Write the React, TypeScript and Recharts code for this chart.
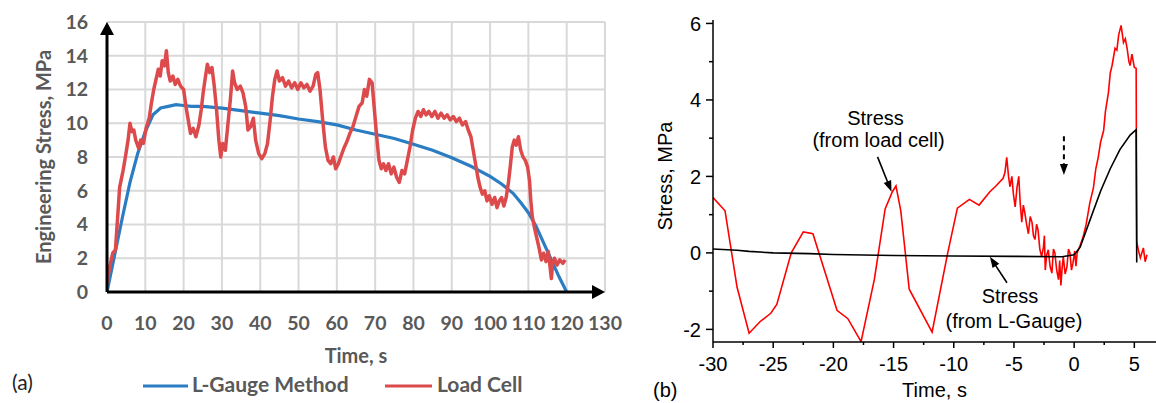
import React from 'react';
import { LineChart, Line, XAxis, YAxis, CartesianGrid, ReferenceLine, ReferenceDot } from 'recharts';

// ---------- Panel (a) ----------
const seriesNamesA = ['L-Gauge Method', 'Load Cell'];
const seriesColorsA = ['#2a7dc3', '#dc4a4c'];
const xTicksA = [0, 10, 20, 30, 40, 50, 60, 70, 80, 90, 100, 110, 120, 130];
const yTicksA = [0, 2, 4, 6, 8, 10, 12, 14, 16];

const lGaugeA: [number, number][] = [
  [0, 0], [2, 2.2], [4, 4.4], [6, 6.5], [8, 8.2], [10, 9.5], [12, 10.5], [14, 10.9], [16, 11.0],
  [18, 11.1], [20, 11.05], [22, 11.0], [25, 11.0], [30, 10.9], [35, 10.75], [40, 10.6], [45, 10.45],
  [50, 10.25], [55, 10.1], [60, 9.9], [65, 9.6], [70, 9.35], [75, 9.1], [80, 8.75], [85, 8.4],
  [90, 7.95], [95, 7.45], [100, 6.85], [103, 6.4], [106, 5.85], [108, 5.3], [110, 4.7], [112, 3.9],
  [114, 2.9], [116, 1.9], [118, 0.9], [120, 0],
];

const loadCellA: [number, number][] = [
  [0, 0.5], [0.7, 1.5], [1.5, 2.3], [2.2, 2.5], [2.8, 4.5], [3.3, 6.2], [4.2, 7.2], [4.8, 8.0], [5.5, 9.0],
  [6.0, 10.0], [6.5, 9.5], [7.0, 9.6], [7.5, 9.0], [8.3, 8.5], [8.8, 9.0], [9.5, 8.8], [10.2, 9.7],
  [11.0, 10.3], [11.6, 11.2], [12.2, 12.0], [12.8, 12.6], [13.4, 13.2], [13.9, 12.8], [14.4, 13.7],
  [15.0, 13.4], [15.5, 14.3], [16.0, 13.0], [16.5, 12.5], [17.2, 12.8], [17.8, 12.3], [18.5, 12.6],
  [19.2, 12.2], [20.0, 12.0], [20.6, 11.0], [21.2, 10.2], [21.8, 9.4], [22.5, 9.7], [23.2, 9.2],
  [24.0, 9.9], [24.6, 10.8], [25.1, 11.8], [25.6, 12.6], [26.2, 13.5], [26.8, 13.0], [27.4, 13.3],
  [28.0, 12.2], [28.6, 10.8], [29.2, 9.0], [29.7, 8.0], [30.2, 8.8], [30.9, 8.4], [31.5, 9.8],
  [32.2, 11.4], [32.8, 13.1], [33.3, 12.4], [34.0, 12.0], [34.8, 12.2], [35.5, 11.8], [36.2, 11.0],
  [36.8, 9.6], [37.5, 9.8], [38.2, 10.3], [38.8, 9.0], [39.6, 8.2], [40.4, 7.9], [41.2, 8.2],
  [41.9, 8.8], [42.6, 10.2], [43.2, 11.6], [43.8, 12.6], [44.4, 13.1], [45.0, 12.5], [45.8, 12.7],
  [46.6, 12.2], [47.4, 12.5], [48.2, 12.1], [49.0, 12.4], [49.8, 12.0], [50.6, 12.4], [51.4, 12.1],
  [52.2, 12.3], [53.0, 11.9], [53.8, 12.2], [54.5, 12.9], [55.0, 13.0], [55.6, 12.0], [56.3, 10.2],
  [57.0, 8.6], [57.7, 7.8], [58.4, 7.6], [59.1, 8.0], [59.7, 7.3], [60.4, 7.6], [61.0, 8.0],
  [61.8, 8.5], [62.6, 8.9], [63.4, 9.4], [64.2, 9.8], [65.0, 10.4], [65.8, 11.0], [66.6, 11.2],
  [67.2, 12.0], [67.8, 11.6], [68.5, 12.6], [69.2, 12.4], [69.8, 10.8], [70.4, 9.2], [71.0, 7.8],
  [71.6, 7.3], [72.2, 7.6], [72.8, 7.2], [73.5, 7.6], [74.2, 7.0], [74.9, 7.4], [75.6, 6.8],
  [76.3, 6.5], [77.0, 7.2], [77.7, 7.0], [78.4, 7.8], [79.1, 8.6], [79.8, 9.6], [80.5, 10.3],
  [81.2, 10.7], [81.9, 10.4], [82.6, 10.8], [83.3, 10.5], [84.0, 10.7], [84.8, 10.4], [85.6, 10.7],
  [86.4, 10.3], [87.2, 10.6], [88.0, 10.3], [88.8, 10.5], [89.6, 10.2], [90.4, 10.4], [91.2, 10.1],
  [92.0, 10.3], [92.8, 9.9], [93.6, 10.1], [94.3, 9.6], [95.0, 9.2], [95.6, 8.4], [96.2, 7.6],
  [96.8, 6.8], [97.4, 6.2], [98.0, 5.8], [98.6, 6.0], [99.2, 5.4], [99.8, 5.7], [100.5, 5.2],
  [101.2, 5.6], [101.8, 5.0], [102.4, 5.4], [103.0, 5.6], [103.6, 5.1], [104.2, 5.6], [104.8, 6.5],
  [105.3, 7.5], [105.8, 8.6], [106.3, 9.0], [106.8, 8.7], [107.4, 9.2], [108.0, 8.4], [108.6, 8.0],
  [109.2, 7.8], [109.8, 7.4], [110.3, 6.6], [110.6, 5.5], [111.0, 4.5], [111.6, 3.8], [112.2, 3.2],
  [112.8, 2.6], [113.4, 1.9], [114.0, 2.3], [114.6, 1.8], [115.2, 2.4], [115.7, 1.4], [116.0, 0.8],
  [116.3, 1.6], [116.8, 2.0], [117.5, 1.6], [118.2, 1.9], [119.0, 1.7], [119.6, 1.9],
];

// ---------- Panel (b) ----------
const xTicksB = [-30, -27.5, -25, -22.5, -20, -17.5, -15, -12.5, -10, -7.5, -5, -2.5, 0, 2.5, 5];
const yTicksB = [-2, -1, 0, 1, 2, 3, 4, 5, 6];

const loadCellB: [number, number][] = [
  [-30, 1.45], [-29, 1.1], [-28, -0.9], [-27, -2.1], [-26.1, -1.8], [-25.2, -1.58], [-24.7, -1.35],
  [-23.5, 0.0], [-22.5, 0.55], [-21.7, 0.5], [-20.6, -0.6], [-19.7, -1.5], [-18.8, -1.72],
  [-17.7, -2.32], [-16.6, -0.7], [-15.7, 1.15], [-15.1, 1.6], [-14.8, 1.75], [-14.4, 1.1],
  [-13.7, -0.95], [-11.8, -2.07], [-10.5, 0.0], [-9.7, 1.17], [-8.7, 1.4], [-7.9, 1.25],
  [-7.0, 1.6], [-6.5, 1.75], [-5.9, 1.95], [-5.75, 2.1], [-5.6, 2.5], [-5.45, 2.0], [-5.33, 1.73],
  [-5.17, 2.0], [-5.05, 1.55], [-4.9, 1.2], [-4.75, 1.7], [-4.6, 2.0], [-4.48, 1.3], [-4.35, 0.8],
  [-4.22, 1.25], [-4.1, 1.05], [-3.95, 0.75], [-3.8, 0.5], [-3.65, 0.95], [-3.5, 0.8], [-3.38, 0.45],
  [-3.25, 0.35], [-3.12, 0.75], [-3.0, 0.6], [-2.85, 0.1], [-2.7, -0.1], [-2.55, 0.15],
  [-2.47, 0.45], [-2.4, -0.45], [-2.28, -0.05], [-2.15, 0.08], [-2.0, -0.35], [-1.85, -0.53],
  [-1.72, 0.1], [-1.6, 0.0], [-1.45, -0.45], [-1.3, -0.7], [-1.2, -0.2], [-1.1, -0.85],
  [-1.0, -0.4], [-0.9, -0.1], [-0.75, -0.55], [-0.6, -0.37], [-0.47, 0.1], [-0.35, 0.0],
  [-0.22, -0.45], [-0.1, -0.27], [0.05, 0.05], [0.15, -0.35], [0.25, 0.0], [0.5, 0.2],
  [0.75, 0.42], [1.0, 0.75], [1.3, 1.3], [1.6, 1.7], [1.8, 2.2], [2.0, 2.5], [2.2, 2.9],
  [2.45, 3.2], [2.6, 3.7], [2.85, 4.2], [3.0, 4.7], [3.15, 4.9], [3.4, 5.35], [3.55, 5.3],
  [3.7, 5.7], [3.9, 5.95], [4.1, 5.5], [4.25, 5.6], [4.4, 5.35], [4.55, 5.0], [4.65, 4.9],
  [4.8, 5.2], [5.0, 4.85], [5.15, 4.83], [5.2, 0.29], [5.35, 0.05], [5.5, -0.13], [5.75, 0.13],
  [5.9, -0.23], [6.05, -0.05],
];

const lGaugeB: [number, number][] = [
  [-30, 0.1], [-28, 0.07], [-27, 0.04], [-25, 0.0], [-22, -0.02], [-20, -0.04], [-15, -0.07],
  [-10, -0.08], [-5, -0.09], [-1, -0.1], [0, -0.05], [0.5, 0.15], [1.33, 0.87], [2.2, 1.62],
  [3.0, 2.2], [3.8, 2.7], [4.65, 3.08], [5.15, 3.22], [5.2, -0.25],
];

const toRows = (pts: [number, number][]) => pts.map(([t, v]) => ({ t, v }));

const FONT_A = 'Lato, "Open Sans", sans-serif';
const FONT_B = '"Liberation Sans", Arial, sans-serif';
const GRAY = '#595959';

const arrowShape = (o: { w: number; head: number; hw: number; dash?: string; color?: string }) => (p: any) => {
  const { x1, y1, x2, y2 } = p;
  if ([x1, y1, x2, y2].some((n) => n == null || isNaN(n))) return <g />;
  const dx = x2 - x1, dy = y2 - y1;
  const L = Math.hypot(dx, dy) || 1;
  const ux = dx / L, uy = dy / L;
  const bx = x2 - ux * o.head, by = y2 - uy * o.head;
  const nx = -uy, ny = ux;
  const c = o.color || '#000';
  return (
    <g>
      <line x1={x1} y1={y1} x2={bx + ux} y2={by + uy} stroke={c} strokeWidth={o.w} strokeDasharray={o.dash} />
      <polygon
        points={`${x2},${y2} ${bx + (nx * o.hw) / 2},${by + (ny * o.hw) / 2} ${bx - (nx * o.hw) / 2},${by - (ny * o.hw) / 2}`}
        fill={c}
      />
    </g>
  );
};

const textShape = (s: string, size: number) => (p: any) => (
  <text x={p.cx} y={p.cy} textAnchor="middle" fontFamily={FONT_B} fontSize={size} fill="#000">
    {s}
  </text>
);

const BXTick = (props: any) => {
  const { x, y, payload } = props;
  const v = payload.value;
  const major = Math.abs(v % 5) < 1e-6;
  return (
    <g>
      <line x1={x} y1={y} x2={x} y2={y + (major ? 6 : 3)} stroke="#000" strokeWidth={1.5} />
      {major && (
        <text x={x} y={y + 29} textAnchor="middle" fontFamily={FONT_B} fontSize={20} fill="#000">
          {v}
        </text>
      )}
    </g>
  );
};

const BYTick = (props: any) => {
  const { x, y, payload } = props;
  const v = payload.value;
  const major = Math.abs(v % 2) < 1e-6;
  return (
    <g>
      <line x1={x - (major ? 7 : 4)} y1={y} x2={x} y2={y} stroke="#000" strokeWidth={1.5} />
      {major && (
        <text x={x - 12} y={y} dy="0.36em" textAnchor="end" fontFamily={FONT_B} fontSize={20} fill="#000">
          {v}
        </text>
      )}
    </g>
  );
};

export default function App() {
  const lg = toRows(lGaugeA);
  const lc = toRows(loadCellA);
  const lcB = toRows(loadCellB);
  const lgB = toRows(lGaugeB);
  const tickA = { fill: GRAY, fontSize: 19.5, fontWeight: 700, fontFamily: FONT_A };
  return (
    <div style={{ position: 'absolute', left: 0, top: 0, width: 1156, height: 403, background: '#fff', overflow: 'hidden' }}>
      {/* Panel (a) */}
      <div style={{ position: 'absolute', left: 0, top: 0 }}>
        <LineChart width={645} height={403} margin={{ top: 22, right: 40, bottom: 51, left: 47 }}>
          <CartesianGrid stroke="#d9d9d9" strokeWidth={2} />
          <XAxis
            dataKey="t"
            type="number"
            domain={[0, 130]}
            ticks={xTicksA}
            interval={0}
            allowDataOverflow
            height={60}
            axisLine={false}
            tickLine={false}
            tickSize={0}
            tickMargin={24}
            tick={tickA}
            label={{
              content: (p: any) => {
                const vb = p.viewBox || {};
                return (
                  <text x={vb.x + vb.width / 2} y={vb.y + 71} textAnchor="middle" fill={GRAY} fontSize={20} fontWeight={700} fontFamily={FONT_A}>
                    Time, s
                  </text>
                );
              },
            }}
          />
          <YAxis
            type="number"
            domain={[0, 16]}
            ticks={yTicksA}
            interval={0}
            allowDataOverflow
            width={60}
            axisLine={false}
            tickLine={false}
            tickSize={0}
            tickMargin={19}
            tick={tickA}
            label={{
              content: (p: any) => {
                const vb = p.viewBox || {};
                const cx = vb.x + 4;
                const cy = vb.y + vb.height / 2;
                return (
                  <text x={cx} y={cy} transform={`rotate(-90 ${cx} ${cy})`} textAnchor="middle" fill={GRAY} fontSize={20} fontWeight={700} fontFamily={FONT_A}>
                    Engineering Stress, MPa
                  </text>
                );
              },
            }}
          />
          <Line data={lg} dataKey="v" type="linear" stroke={seriesColorsA[0]} strokeWidth={3.2} dot={false} isAnimationActive={false} name={seriesNamesA[0]} />
          <Line data={lc} dataKey="v" type="linear" stroke={seriesColorsA[1]} strokeWidth={3.5} dot={false} isAnimationActive={false} name={seriesNamesA[1]} strokeLinejoin="round" />
          <ReferenceLine segment={[{ x: 0, y: 0 }, { x: 130, y: 0 }]} ifOverflow="visible" shape={arrowShape({ w: 3, head: 13, hw: 14 })} />
          <ReferenceLine segment={[{ x: 0, y: 0 }, { x: 0, y: 16 }]} ifOverflow="visible" shape={arrowShape({ w: 3, head: 13, hw: 14 })} />
        </LineChart>
      </div>

      {/* Panel (b) */}
      <div style={{ position: 'absolute', left: 620, top: 0 }}>
        <LineChart width={536} height={403} margin={{ top: 20, right: 0, bottom: 21, left: 33 }}>
          <XAxis
            dataKey="t"
            type="number"
            domain={[-30, 6.8]}
            ticks={xTicksB}
            interval={0}
            allowDataOverflow
            height={40}
            axisLine={{ stroke: '#000', strokeWidth: 1.5 }}
            tickLine={false}
            tickSize={0}
            tickMargin={0}
            tick={<BXTick />}
            label={{
              content: (p: any) => {
                const vb = p.viewBox || {};
                return (
                  <text x={vb.x + vb.width / 2} y={vb.y + 55} textAnchor="middle" fill="#000" fontSize={20} fontFamily={FONT_B}>
                    Time, s
                  </text>
                );
              },
            }}
          />
          <YAxis
            type="number"
            domain={[-2.33, 6.09]}
            ticks={yTicksB}
            interval={0}
            allowDataOverflow
            width={60}
            axisLine={{ stroke: '#000', strokeWidth: 1.5 }}
            tickLine={false}
            tickSize={0}
            tickMargin={0}
            tick={<BYTick />}
            label={{
              content: (p: any) => {
                const vb = p.viewBox || {};
                const cx = vb.x + 19;
                const cy = vb.y + vb.height / 2 - 5;
                return (
                  <text x={cx} y={cy} transform={`rotate(-90 ${cx} ${cy})`} textAnchor="middle" fill="#000" fontSize={20} fontFamily={FONT_B}>
                    Stress, MPa
                  </text>
                );
              },
            }}
          />
          <Line data={lcB} dataKey="v" type="linear" stroke="#ff0000" strokeWidth={1.6} dot={false} isAnimationActive={false} name="Stress (from load cell)" />
          <Line data={lgB} dataKey="v" type="linear" stroke="#000" strokeWidth={1.6} dot={false} isAnimationActive={false} name="Stress (from L-Gauge)" />
          <ReferenceLine segment={[{ x: -16.33, y: 2.51 }, { x: -15.17, y: 1.6 }]} ifOverflow="visible" shape={arrowShape({ w: 1.6, head: 11, hw: 8 })} />
          <ReferenceLine segment={[{ x: -5.58, y: -0.78 }, { x: -7.0, y: -0.1 }]} ifOverflow="visible" shape={arrowShape({ w: 1.6, head: 11, hw: 8 })} />
          <ReferenceLine segment={[{ x: -0.85, y: 3.05 }, { x: -0.85, y: 2.04 }]} ifOverflow="visible" shape={arrowShape({ w: 2, head: 11, hw: 8, dash: '5 4' })} />
          <ReferenceDot x={-16.5} y={3.35} r={0} ifOverflow="visible" shape={textShape('Stress', 20)} />
          <ReferenceDot x={-16.25} y={2.77} r={0} ifOverflow="visible" shape={textShape('(from load cell)', 20)} />
          <ReferenceDot x={-5.33} y={-1.31} r={0} ifOverflow="visible" shape={textShape('Stress', 20)} />
          <ReferenceDot x={-5.0} y={-1.96} r={0} ifOverflow="visible" shape={textShape('(from L-Gauge)', 20)} />
        </LineChart>
      </div>

      {/* Legend and panel labels */}
      <svg width={1156} height={403} style={{ position: 'absolute', left: 0, top: 0, pointerEvents: 'none' }}>
        <text x={12} y={390} fontFamily={FONT_A} fontSize={21} fill="#222">(a)</text>
        <line x1={143} y1={386} x2={188} y2={386} stroke={seriesColorsA[0]} strokeWidth={3} />
        <text x={192} y={392} fontFamily={FONT_A} fontSize={21} fontWeight={700} fill={GRAY}>{seriesNamesA[0]}</text>
        <line x1={385} y1={386} x2={432} y2={386} stroke={seriesColorsA[1]} strokeWidth={3} />
        <text x={437} y={392} fontFamily={FONT_A} fontSize={21} fontWeight={700} fill={GRAY}>{seriesNamesA[1]}</text>
        <text x={653} y={397} fontFamily={FONT_B} fontSize={20} fill="#000">(b)</text>
      </svg>
    </div>
  );
}
